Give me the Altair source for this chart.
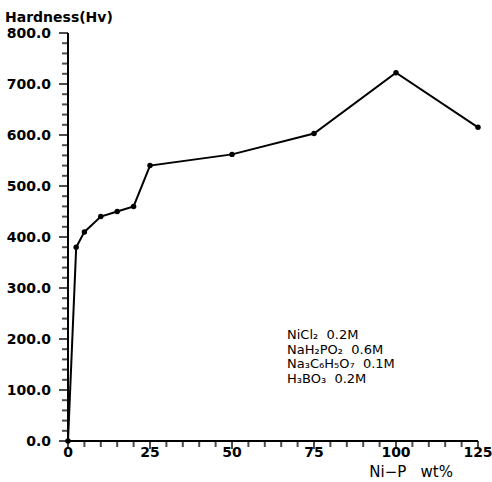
import altair as alt
import pandas as pd

# Microhardness of Ni-P deposits versus Ni-P content
ni_p_wt = [0, 2.5, 5, 10, 15, 20, 25, 50, 75, 100, 125]
hardness_hv = [0, 380, 410, 440, 450, 460, 540, 562, 603, 722, 615]

x_major = [0, 25, 50, 75, 100, 125]
y_major = [0, 100, 200, 300, 400, 500, 600, 700, 800]
x_minor = [v for v in range(0, 126, 5) if v % 25]
y_minor = [v for v in range(0, 801, 20) if v % 100]

NB = "\u00a0"
x_title = "Ni−P" + NB * 3 + "wt%"
y_title = "Hardness(Hv)"
bath_lines = [
    "NiCl₂" + NB * 2 + "0.2M",
    "NaH₂PO₂" + NB * 2 + "0.6M",
    "Na₃C₆H₅O₇" + NB * 2 + "0.1M",
    "H₃BO₃" + NB * 2 + "0.2M",
]

FONT = "DejaVu Sans"
W, H = 410, 408

df = pd.DataFrame({"x": ni_p_wt, "y": hardness_hv})
xs = alt.Scale(domain=[0, 125], nice=False, zero=True)
ys = alt.Scale(domain=[0, 800], nice=False)
one = pd.DataFrame({"k": [0]})


def X(f):
    return alt.X(f, scale=xs, axis=None)


def Y(f):
    return alt.Y(f, scale=ys, axis=None)


line = alt.Chart(df).mark_line(color="black", strokeWidth=2).encode(x=X("x:Q"), y=Y("y:Q"))
points = alt.Chart(df).mark_circle(color="black", size=30, opacity=1).encode(x=X("x:Q"), y=Y("y:Q"))

# tick marks: longer at labelled values, short in between
xt_major = alt.Chart(pd.DataFrame({"xv": x_major})).mark_tick(
    color="black", thickness=2, size=8, orient="vertical"
).encode(x=X("xv:Q"), y=alt.value(H + 4))
xt_minor = alt.Chart(pd.DataFrame({"xm": x_minor})).mark_tick(
    color="black", thickness=2, size=6, orient="vertical"
).encode(x=X("xm:Q"), y=alt.value(H + 3))
yt_major = alt.Chart(pd.DataFrame({"yv": y_major})).mark_tick(
    color="black", thickness=2, size=9, orient="horizontal"
).encode(y=Y("yv:Q"), x=alt.value(-4.5))
yt_minor = alt.Chart(pd.DataFrame({"ym": y_minor})).mark_tick(
    color="black", thickness=2, size=6, orient="horizontal"
).encode(y=Y("ym:Q"), x=alt.value(-3))

# axis lines
x_domain = alt.Chart(one).mark_rule(color="black", strokeWidth=2).encode(
    x=alt.value(-1), x2=alt.value(W), y=alt.value(H)
)
y_domain = alt.Chart(one).mark_rule(color="black", strokeWidth=2).encode(
    x=alt.value(0), y=alt.value(0), y2=alt.value(H + 1)
)

# tick labels
x_labels = alt.Chart(pd.DataFrame({"xl": x_major})).mark_text(
    font=FONT, fontSize=14, fontWeight="bold", color="black", baseline="top", align="center"
).encode(x=X("xl:Q"), y=alt.value(H + 5), text=alt.Text("xl:Q", format="d"))
y_labels = alt.Chart(pd.DataFrame({"yl": y_major})).mark_text(
    font=FONT, fontSize=14, fontWeight="bold", color="black", baseline="middle", align="right", dy=1
).encode(y=Y("yl:Q"), x=alt.value(-17), text=alt.Text("yl:Q", format=".1f"))

# axis titles
x_title_mark = alt.Chart(pd.DataFrame({"t": [x_title]})).mark_text(
    font=FONT, fontSize=15, color="black", baseline="alphabetic", align="right"
).encode(x=alt.value(385), y=alt.value(H + 36), text="t:N")
y_title_mark = alt.Chart(pd.DataFrame({"t": [y_title]})).mark_text(
    font=FONT, fontSize=14, fontWeight="bold", color="black", baseline="alphabetic", align="left"
).encode(x=alt.value(-63), y=alt.value(-11), text="t:N")

note = alt.Chart(pd.DataFrame({"t": ["\n".join(bath_lines)]})).mark_text(
    align="left",
    baseline="middle",
    font=FONT,
    fontSize=13,
    lineBreak="\n",
    lineHeight=14.5,
    color="black",
).encode(x=alt.value(219), y=alt.value(302), text="t:N")

chart = (
    alt.layer(
        line, points, xt_minor, yt_minor, xt_major, yt_major, x_domain, y_domain,
        x_labels, y_labels, x_title_mark, y_title_mark, note,
    )
    .properties(
        width=W,
        height=H,
        padding={"left": 68, "top": 33, "right": 14, "bottom": 41},
        autosize=alt.AutoSizeParams(type="none"),
        background="white",
    )
    .configure_view(stroke=None)
)

chart.save("out.html", embed_options={"renderer": "svg", "actions": False})
